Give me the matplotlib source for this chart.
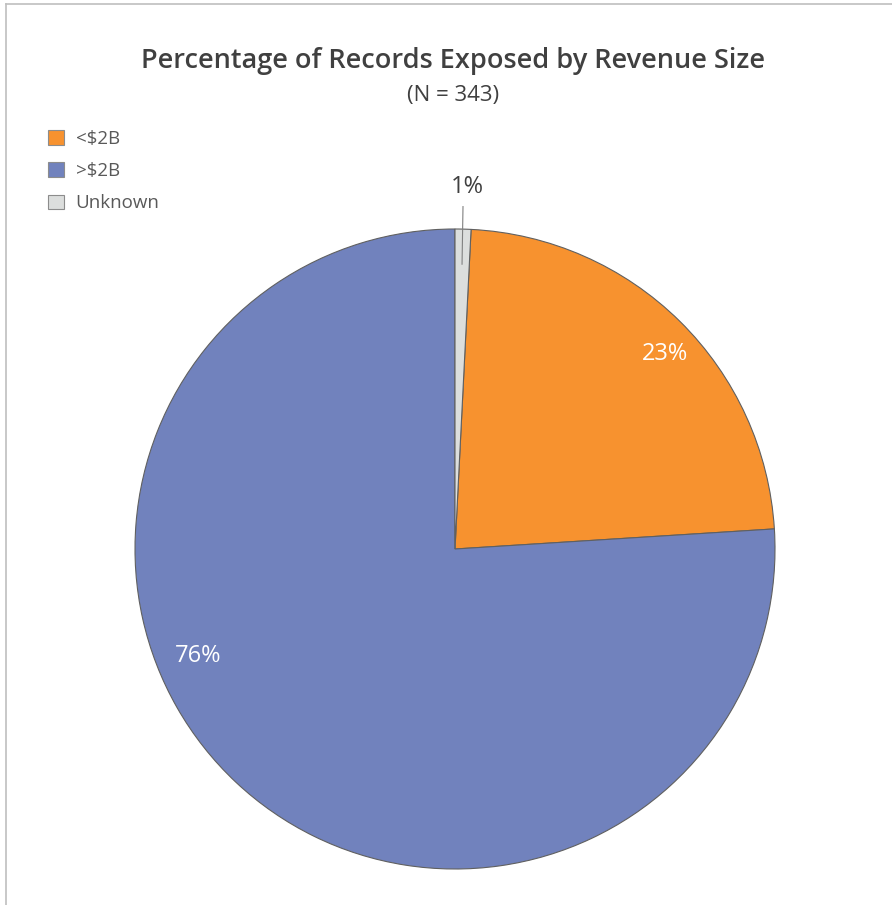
import numpy as np
import matplotlib.pyplot as plt
from matplotlib.lines import Line2D
from matplotlib.patches import Patch

plt.rcParams['font.family'] = ['Open Sans', 'DejaVu Sans']

categories = ['<$2B', '>$2B', 'Unknown']
values = [23.2, 76.0, 0.8]
colors = ['#F7922F', '#7182BD', '#DCDEDD']
title = 'Percentage of Records Exposed by Revenue Size'
subtitle = '(N = 343)'

W, H = 892, 905
fig = plt.figure(figsize=(W / 100, H / 100), dpi=100)

# thin grey frame on left and top
fig.add_artist(Line2D([5.5 / W, 5.5 / W], [0, 1 - 4 / H], color='#BFBFBF', lw=1.2))
fig.add_artist(Line2D([5.5 / W, 1], [1 - 4 / H, 1 - 4 / H], color='#BFBFBF', lw=1.2))

# pie axes: center (455, 549), radius 320 px
cx, cy, r = 455, 549, 320
ax = fig.add_axes([(cx - r) / W, (H - cy - r) / H, 2 * r / W, 2 * r / H])
total = sum(values)
wedges, _ = ax.pie(values, colors=colors, startangle=90 - 360 * values[2] / total,
                   counterclock=False, radius=1,
                   wedgeprops=dict(edgecolor='#606060', linewidth=0.8))
ax.set_xlim(-1, 1)
ax.set_ylim(-1, 1)
ax.set_aspect('equal')
ax.axis('off')

# data labels
pct = [f'{round(v / total * 100)}%' for v in values]
ax.text(0.656, 0.609, pct[0], color='white', fontsize=17, ha='center', va='center')
ax.text(-0.803, -0.334, pct[1], color='white', fontsize=17, ha='center', va='center')
ax.text(0.038, 1.13, pct[2], color='#404040', fontsize=17, ha='center', va='center')
ax.plot([0.025, 0.022], [1.07, 0.89], color='#808080', lw=0.8, clip_on=False)

fig.text(453 / W, 1 - 61 / H, title, fontsize=19.5, fontweight='semibold',
         color='#404040', ha='center', va='center')
fig.text(453 / W, 1 - 96 / H, subtitle, fontsize=16, color='#404040',
         ha='center', va='center')

handles = [Patch(facecolor=c, edgecolor='#8C8C8C', linewidth=0.8) for c in colors]
fig.legend(handles, categories, loc='upper left', bbox_to_anchor=(39 / W, 1 - 121 / H),
           frameon=False, fontsize=13.5, labelcolor='#595959', handlelength=0.85,
           handleheight=0.85, handletextpad=0.6, labelspacing=0.75, borderpad=0)

fig.savefig('out.png', dpi=100)
